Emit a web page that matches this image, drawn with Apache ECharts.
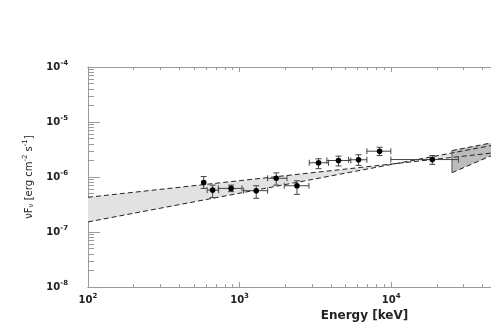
<!DOCTYPE html>
<html>
<head>
<meta charset="utf-8">
<script src="https://cdn.jsdelivr.net/npm/echarts@6/dist/echarts.min.js"></script>
<style>
  html, body { margin: 0; background: #fff; }
  #chart { width: 491px; height: 327px; }
</style>
</head>
<body>
<div id="chart"></div>
<script>
// measured spectral points (keV, erg cm^-2 s^-1)
var energy   = [580, 664, 879, 1288, 1746, 2392, 3318, 4496, 6095, 8395, 18700];
var energyLo = [580, 611, 724, 1064, 1531, 1972, 2884, 3767, 5236, 6918, 9955];
var energyHi = [580, 728, 1038, 1531, 2055, 2870, 3864, 5420, 6918, 9955, 27800];
var flux     = [7.96e-7, 5.79e-7, 6.22e-7, 5.65e-7, 9.51e-7, 6.95e-7, 1.82e-6, 2.0e-6, 2.06e-6, 2.95e-6, 2.08e-6];
var fluxLo   = [6.22e-7, 4.24e-7, 5.43e-7, 4.11e-7, 7.13e-7, 4.85e-7, 1.42e-6, 1.59e-6, 1.63e-6, 2.46e-6, 1.70e-6];
var fluxHi   = [1.02e-6, 7.13e-7, 7.13e-7, 6.95e-7, 1.19e-6, 8.55e-7, 2.15e-6, 2.4e-6, 2.54e-6, 3.48e-6, 2.46e-6];

// power-law fit butterfly (two bounding lines)
var fitEnergy = [100, 45600];
var fitA = [4.29e-7, 2.72e-6];
var fitB = [1.53e-7, 3.73e-6];

// high energy band
var hiEnergy = [25200, 45600];
var hiTop = [3.03e-6, 4.16e-6];
var hiBot = [1.2e-6, 2.43e-6];

// ticks
var xMajor = [100, 1000, 10000];
var yMajor = [1e-8, 1e-7, 1e-6, 1e-5, 1e-4];
var xMinor = [];
var yMinor = [];
[2, 3, 4].forEach(function (e) {
  for (var k = 2; k <= 9; k++) xMinor.push(k * Math.pow(10, e));
});
[-8, -7, -6, -5].forEach(function (e) {
  for (var k = 2; k <= 9; k++) yMinor.push(k * Math.pow(10, e));
});

var FONT = 'DejaVu Sans';
var axisColor = '#9a9a9a';

function powLabel(v) {
  return '10{s|' + Math.round(Math.log10(v)) + '}';
}
var labelRich = {
  s: { fontSize: 7, fontFamily: FONT, fontWeight: 'bold', color: '#222', padding: [0, 0, 7, 0] }
};

function xAxisDef(pos, ticks, len, showLabel) {
  return {
    type: 'log', logBase: 10, min: 100, max: 45600, position: pos,
    axisLine: { show: true, lineStyle: { color: axisColor, width: 1 } },
    axisTick: { show: true, inside: true, length: len, customValues: ticks,
                lineStyle: { color: axisColor } },
    axisLabel: { show: showLabel, customValues: xMajor, formatter: powLabel, margin: 6,
                 fontFamily: FONT, fontWeight: 'bold', fontSize: 10, color: '#222', rich: labelRich },
    splitLine: { show: false }
  };
}
function yAxisDef(ticks, len, showLabel) {
  return {
    type: 'log', logBase: 10, min: 1e-8, max: 1e-4, position: 'left',
    axisLine: { show: true, lineStyle: { color: axisColor, width: 1 } },
    axisTick: { show: true, inside: true, length: len, customValues: ticks,
                lineStyle: { color: axisColor } },
    axisLabel: { show: showLabel, customValues: yMajor, formatter: powLabel, margin: 20,
                 fontFamily: FONT, fontWeight: 'bold', fontSize: 10, color: '#222', rich: labelRich },
    splitLine: { show: false }
  };
}

var xMain = xAxisDef('bottom', xMajor, 5, true);
xMain.name = 'Energy [keV]';
xMain.nameLocation = 'middle';
xMain.nameGap = 22;
xMain.nameTextStyle = { fontFamily: FONT, fontWeight: 'bold', fontSize: 12, color: '#222',
                        padding: [0, 0, 0, 150] };

var yMain = yAxisDef(yMajor, 12, true);
yMain.name = 'νF{b|ν} [erg cm{a|-2} s{a|-1}]';
yMain.nameLocation = 'middle';
yMain.nameGap = 52;
yMain.nameRotate = 90;
yMain.nameTextStyle = {
  fontFamily: FONT, fontSize: 10, color: '#222',
  rich: {
    a: { fontFamily: FONT, fontSize: 7, color: '#222', padding: [0, 0, 7, 0] },
    b: { fontFamily: FONT, fontSize: 7, color: '#222', padding: [4, 0, 0, 0] }
  }
};

var pointData = energy.map(function (e, i) {
  return [e, flux[i], energyLo[i], energyHi[i], fluxLo[i], fluxHi[i]];
});

function renderBand(params, api) {
  var p0 = api.coord([fitEnergy[0], fitA[0]]);
  var p1 = api.coord([fitEnergy[1], fitA[1]]);
  var q0 = api.coord([fitEnergy[0], fitB[0]]);
  var q1 = api.coord([fitEnergy[1], fitB[1]]);
  var h0 = api.coord([hiEnergy[0], hiTop[0]]);
  var h1 = api.coord([hiEnergy[1], hiTop[1]]);
  var g0 = api.coord([hiEnergy[0], hiBot[0]]);
  var g1 = api.coord([hiEnergy[1], hiBot[1]]);
  var dash = { stroke: '#222', lineWidth: 1, lineDash: [5, 3], fill: null };
  return {
    type: 'group',
    children: [
      { type: 'polygon', shape: { points: [p0, p1, q1, q0] }, style: { fill: '#e2e2e2' } },
      { type: 'polygon', shape: { points: [h0, h1, g1, g0] }, style: { fill: '#bcbcbc' } },
      { type: 'line', shape: { x1: p0[0], y1: p0[1], x2: p1[0], y2: p1[1] }, style: dash },
      { type: 'line', shape: { x1: q0[0], y1: q0[1], x2: q1[0], y2: q1[1] }, style: dash },
      { type: 'line', shape: { x1: h0[0], y1: h0[1], x2: h1[0], y2: h1[1] }, style: dash },
      { type: 'line', shape: { x1: g0[0], y1: g0[1], x2: g1[0], y2: g1[1] }, style: dash },
      { type: 'line', shape: { x1: h0[0], y1: h0[1], x2: g0[0], y2: g0[1] },
        style: { stroke: '#555', lineWidth: 1 } }
    ]
  };
}

function renderPoint(params, api) {
  var c = api.coord([api.value(0), api.value(1)]);
  var xl = api.coord([api.value(2), api.value(1)]);
  var xh = api.coord([api.value(3), api.value(1)]);
  var yl = api.coord([api.value(0), api.value(4)]);
  var yh = api.coord([api.value(0), api.value(5)]);
  var st = { stroke: '#444', lineWidth: 1 };
  var kids = [
    { type: 'line', shape: { x1: c[0], y1: yl[1], x2: c[0], y2: yh[1] }, style: st },
    { type: 'line', shape: { x1: c[0] - 3, y1: yl[1], x2: c[0] + 3, y2: yl[1] }, style: st },
    { type: 'line', shape: { x1: c[0] - 3, y1: yh[1], x2: c[0] + 3, y2: yh[1] }, style: st }
  ];
  if (xh[0] - xl[0] > 1) {
    kids.push(
      { type: 'line', shape: { x1: xl[0], y1: c[1], x2: xh[0], y2: c[1] }, style: st },
      { type: 'line', shape: { x1: xl[0], y1: c[1] - 3, x2: xl[0], y2: c[1] + 3 }, style: st },
      { type: 'line', shape: { x1: xh[0], y1: c[1] - 3, x2: xh[0], y2: c[1] + 3 }, style: st }
    );
  }
  kids.push({ type: 'circle', shape: { cx: c[0], cy: c[1], r: 2.8 }, style: { fill: '#000' } });
  return { type: 'group', children: kids };
}

var chart = echarts.init(document.getElementById('chart'), null, { renderer: 'canvas' });
chart.setOption({
  animation: false,
  backgroundColor: '#fff',
  grid: { left: 88, right: 0, top: 67, bottom: 37 },
  xAxis: [
    xMain,
    xAxisDef('bottom', xMinor, 3, false),
    xAxisDef('top', xMajor, 5, false),
    xAxisDef('top', xMinor, 3, false)
  ],
  yAxis: [
    yMain,
    yAxisDef(yMinor, 6, false)
  ],
  series: [
    { type: 'custom', xAxisIndex: 0, yAxisIndex: 0, data: [[100, 1e-6]],
      renderItem: renderBand, clip: true, silent: true, z: 1 },
    { type: 'custom', xAxisIndex: 0, yAxisIndex: 0, data: pointData,
      renderItem: renderPoint, clip: true, z: 3 }
  ]
});
</script>
</body>
</html>
